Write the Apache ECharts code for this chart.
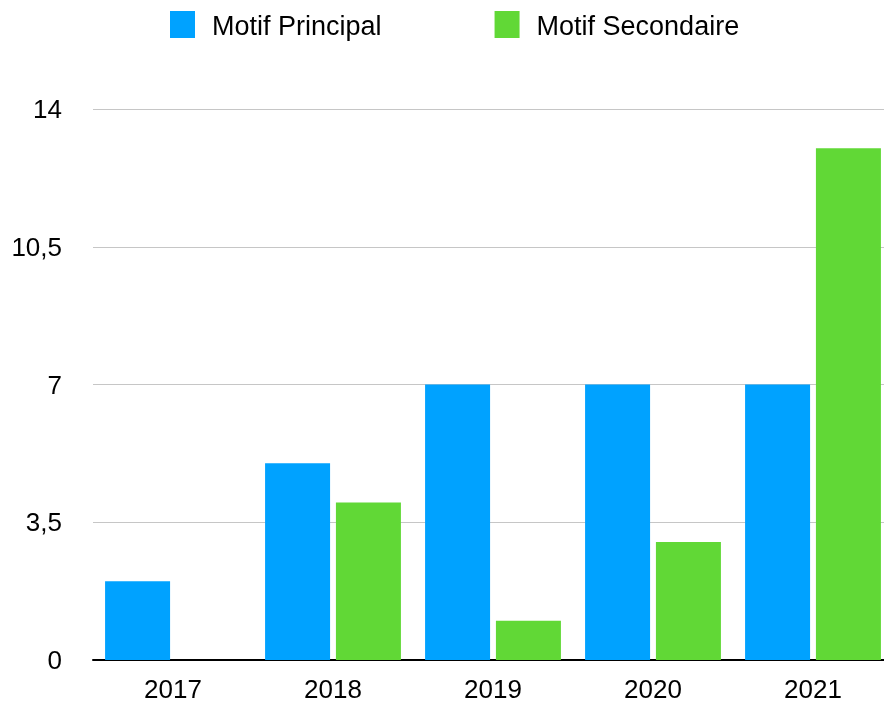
<!DOCTYPE html>
<html>
<head>
<meta charset="utf-8">
<script src="https://cdn.jsdelivr.net/npm/echarts@6/dist/echarts.min.js"></script>
<style>
  html, body { margin: 0; padding: 0; background: #fff; }
  #main { width: 884px; height: 704px; }
</style>
</head>
<body>
<div id="main"></div>
<script>
// data
var years = ['2017', '2018', '2019', '2020', '2021'];
var principal = [2, 5, 7, 7, 7];
var secondaire = [0, 4, 1, 3, 13];

var blue = '#00a2ff';
var green = '#61d836';
var font = 'Liberation Sans, Helvetica, Arial, sans-serif';

var chartDom = document.getElementById('main');
var myChart = echarts.init(chartDom);

var option = {
  animation: false,
  backgroundColor: '#fff',
  legend: {
    left: 170,
    top: 11,
    padding: 0,
    itemWidth: 25,
    itemHeight: 27,
    itemGap: 113,
    icon: 'rect',
    formatter: '{t|{name}}',
    textStyle: {
      fontFamily: font, fontSize: 27, color: '#000',
      rich: { t: { fontFamily: font, fontSize: 27, color: '#000', padding: [6, 0, 0, 12] } }
    },
    data: ['Motif Principal', 'Motif Secondaire']
  },
  // plot runs a little past the right edge, as in the picture
  grid: { left: 93, width: 800, top: 109, bottom: 44, outerBoundsMode: 'none' },
  xAxis: {
    type: 'category',
    data: years,
    axisLine: { lineStyle: { color: '#000', width: 2 } },
    axisTick: { show: false },
    axisLabel: { fontFamily: font, fontSize: 26, color: '#000', margin: 18 }
  },
  yAxis: {
    type: 'value',
    min: 0,
    max: 14,
    interval: 3.5,
    axisLine: { show: false },
    axisTick: { show: false },
    splitLine: { lineStyle: { color: '#c6c6c6', width: 1 } },
    axisLabel: {
      fontFamily: font, fontSize: 26, color: '#000', margin: 31,
      formatter: function (v) { return '{v|' + String(v).replace('.', ',') + '}'; },
      rich: { v: { fontFamily: font, fontSize: 26, color: '#000', padding: [4, 0, 0, 0] } }
    }
  },
  series: [
    { name: 'Motif Principal', type: 'bar', data: principal, barWidth: 65, barGap: '9%', itemStyle: { color: blue } },
    { name: 'Motif Secondaire', type: 'bar', data: secondaire, barWidth: 65, barGap: '9%', itemStyle: { color: green } }
  ]
};

myChart.setOption(option);
</script>
</body>
</html>
